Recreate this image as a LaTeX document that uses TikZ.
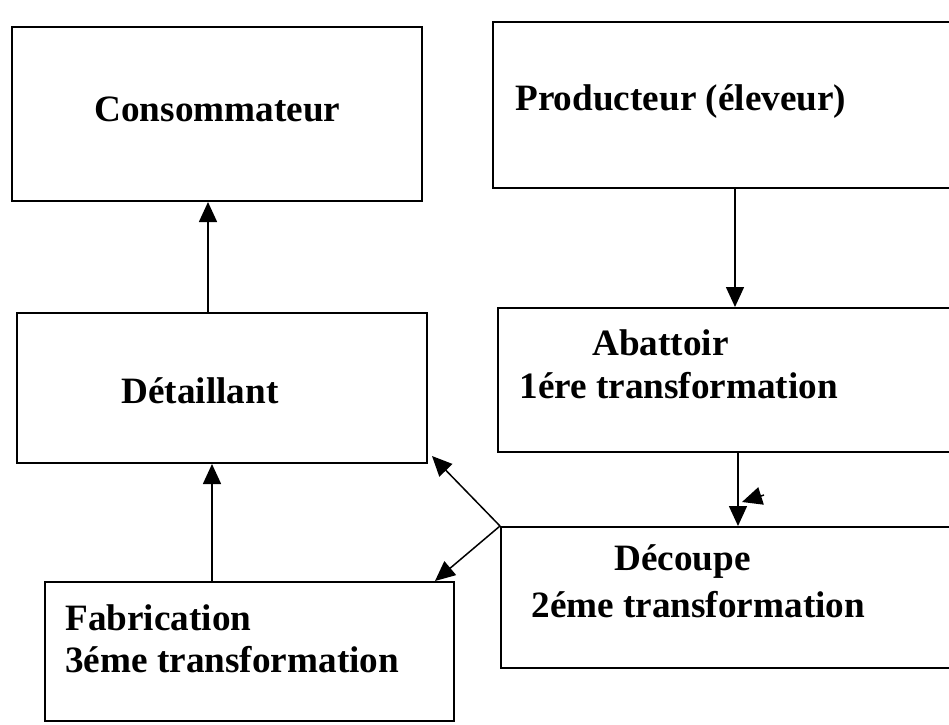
\documentclass[tikz,border=0pt]{standalone}
\usepackage{fontspec}
\setmainfont{Liberation Serif}
\usetikzlibrary{positioning,arrows.meta}

\tikzset{
  box/.style={draw, line width=1pt, inner sep=0pt},
  lbl/.style={inner sep=0pt, anchor=base west, font=\bfseries\fontsize{18.6}{20}\selectfont},
  arr/.style={line width=0.75pt, -{Triangle[length=10pt,width=9pt]}}
}

\begin{document}
\begin{tikzpicture}[x=0.5pt,y=-0.5pt]
			\useasboundingbox (0,0) rectangle (949,724);
			
			% les cadres
			\node[box, minimum width=205pt, minimum height=87pt]   (conso)  at (217,114)   {};
			\node[box, minimum width=231pt, minimum height=83pt]   (prod)   at (724,105)   {};
			\node[box, minimum width=205pt, minimum height=75pt]   (detail) at (222,388)   {};
			\node[box, minimum width=228.5pt, minimum height=72pt] (abat)   at (726.5,380) {};
			\node[box, minimum width=227pt, minimum height=70.5pt] (decoup) at (728,597.5) {};
			\node[box, minimum width=204.5pt, minimum height=69.5pt] (fabric) at (249.5,651.5) {};
			
			% les textes
			\node[lbl] (tConso)  at (94,121)  {Consommateur};
			\node[lbl] (tProd)   at (515,110) {Producteur (éleveur)};
			\node[lbl] (tDetail) at (121,403) {Détaillant};
			\node[lbl] (tAbat)   at (592,355) {Abattoir};
			\node[lbl] (tAbat2)  at (519,398) {1ére transformation};
			\node[lbl] (tDecoup) at (614,570) {Découpe};
			\node[lbl] (tDecoup2) at (531,617) {2éme transformation};
			\node[lbl] (tFabric) at (65,630)  {Fabrication};
			\node[lbl] (tFabric2) at (65,672) {3éme transformation};
			
			% colonnes des flèches verticales
			\coordinate (colA) at (208,0);
			\coordinate (colB) at (212,0);
			\coordinate (colC) at (735,0);
			\coordinate (colD) at (738,0);
			
			% les flèches
			\draw[arr] (prod.south -| colC) -- (abat.north -| colC);
			\draw[arr] (abat.south -| colD) -- (decoup.north -| colD);
			\draw[arr] (detail.north -| colA) -- (conso.south -| colA);
			\draw[arr] (fabric.north -| colB) -- (detail.south -| colB);
			\draw[arr] (decoup.north west) -- ([xshift=2pt,yshift=4pt]detail.south east);
			\draw[arr] (decoup.north west) -- ([xshift=-10pt]fabric.north east);
			
			% pointe en double
			\coordinate (dblFrom) at (764,495);
			\coordinate (dblTo)   at (742,502);
			\draw[arr] (dblFrom) -- (dblTo);
		\end{tikzpicture}
\end{document}
